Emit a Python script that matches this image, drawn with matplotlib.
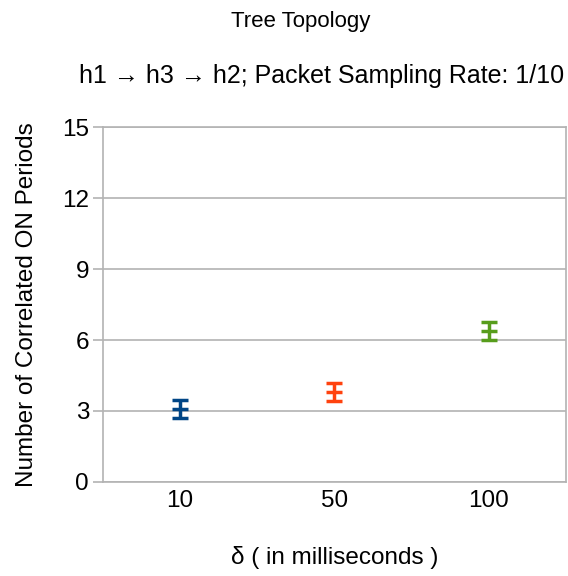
import numpy as np
import matplotlib.pyplot as plt

plt.rcParams['font.family'] = ['Liberation Sans', 'DejaVu Sans']

# correlated ON periods per delta setting
deltas = ['10', '50', '100']
means = [3.1, 3.8, 6.4]
errs = [0.38, 0.38, 0.38]
colors = ['#004586', '#ff420e', '#579d1c']
yticks = [0, 3, 6, 9, 12, 15]

fig = plt.figure(figsize=(5.68, 5.76), dpi=100)
ax = fig.add_axes([0.1813, 0.1632, 0.8152, 0.6163])

x = np.arange(len(deltas))
for i in range(len(deltas)):
    ax.errorbar(x[i], means[i], yerr=errs[i], fmt='_', color=colors[i],
                ecolor=colors[i], elinewidth=2.5, capsize=6, capthick=2.5,
                markersize=12, markeredgewidth=2.5, zorder=3)

ax.set_xlim(-0.5, 2.5)
ax.set_ylim(0, 15)
ax.set_xticks(x)
ax.set_xticklabels(deltas)
ax.set_yticks(yticks)
ax.yaxis.grid(True, color='#b3b3b3', linewidth=1.2)
ax.set_axisbelow(True)
for s in ax.spines.values():
    s.set_color('#b3b3b3')
    s.set_linewidth(1.2)
ax.tick_params(axis='y', length=7, color='#b3b3b3', width=1.2, labelsize=17.5, pad=3)
ax.tick_params(axis='x', length=0, labelsize=17.5, pad=6)

ax.set_ylabel('Number of Correlated ON Periods', fontsize=17.5, labelpad=17)
ax.set_xlabel('δ ( in milliseconds )', fontsize=17.5, labelpad=24)

fig.text(0.53, 0.963, 'Tree Topology', ha='center', va='center', fontsize=16)
fig.text(0.567, 0.868, 'h1 \u2192 h3 \u2192 h2; Packet Sampling Rate: 1/10', ha='center',
         va='center', fontsize=18)

fig.savefig('out.png', dpi=100)
